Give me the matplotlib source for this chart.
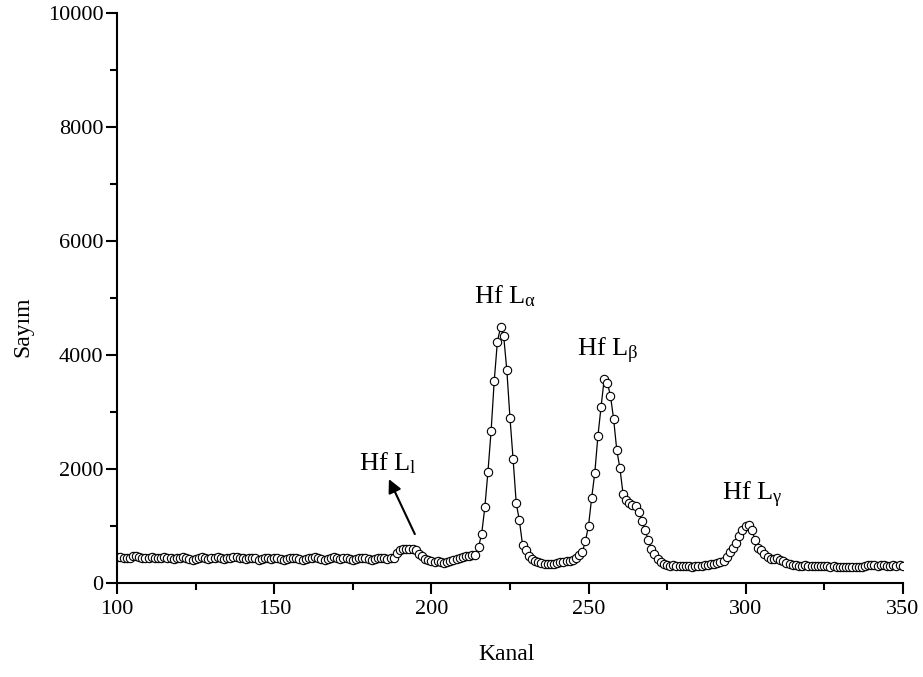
import matplotlib.pyplot as plt
import numpy as np
from matplotlib.ticker import MultipleLocator

plt.rcParams['font.family'] = ['Liberation Serif', 'DejaVu Serif']
plt.rcParams['mathtext.fontset'] = 'custom'
plt.rcParams['mathtext.rm'] = 'Liberation Serif'
plt.rcParams['mathtext.it'] = 'Liberation Serif'

# kanal 100..350, bir nokta her kanal
kanal = np.arange(100, 351)

taban_1 = [460, 450, 440, 430, 440, 470, 480, 450, 440, 430, 440, 450, 440, 430, 440, 450, 440, 430, 420, 430,
           440, 450, 440, 420, 410, 420, 440, 450, 430, 420, 430, 440, 450, 440, 420, 430, 440, 450, 460, 440,
           430, 420, 430, 440, 430, 410, 420, 440, 430, 420, 430, 440, 420, 410, 420, 430, 440, 430, 420, 410,
           420, 430, 440, 450, 430, 420, 410, 420, 440, 450, 430, 420, 430, 440, 420, 410, 420, 430, 440, 430,
           420, 410, 420, 430, 440, 430, 420, 430]
tepe_l = [430, 520, 580, 595, 590, 595, 590, 570, 515, 465, 425, 400, 380, 375, 385, 360, 350, 365, 385, 400,
          420, 440, 455, 465, 480, 490]
tepe_alfa = [483, 630, 863, 1324, 1954, 2667, 3548, 4232, 4483, 4331, 3735, 2900, 2170, 1398, 1095, 669,
             580, 480, 420, 385, 360, 345, 335, 340, 330, 340, 350]
tepe_beta = [360, 370, 380, 390, 410, 438, 496, 536, 730, 1000, 1490, 1930, 2580, 3090, 3580, 3510, 3280, 2870,
             2330, 2010, 1560, 1460, 1400, 1370, 1350, 1250, 1080, 920, 760, 600, 500, 420, 360, 340, 320, 305]
taban_2 = [310, 300, 295, 290, 295, 290, 285, 290, 300, 305, 310, 320, 330, 335, 345, 360, 380]
tepe_gama = [455, 540, 610, 700, 820, 930, 990, 1020, 920, 760, 610, 570, 510, 455, 420, 420, 435, 410, 380, 350]
taban_3 = [330, 320, 310, 305, 300, 310, 305, 300, 295, 300, 290, 295, 290, 285, 290, 285, 280, 285, 280, 275,
           280, 275, 280, 285, 300, 310, 320, 310, 300, 320, 310, 300, 305, 310, 300, 310, 305]

sayim = taban_1 + tepe_l + tepe_alfa + tepe_beta + taban_2 + tepe_gama + taban_3

fig = plt.figure(figsize=(9.23, 6.77), dpi=100)
ax = fig.add_axes([0.127, 0.139, 0.851, 0.842])

ax.plot(kanal, sayim, '-o', color='black', linewidth=0.9, markersize=6,
        markerfacecolor='white', markeredgecolor='black', markeredgewidth=0.8)

ax.set_xlim(100, 350)
ax.set_ylim(0, 10000)
ax.xaxis.set_major_locator(MultipleLocator(50))
ax.xaxis.set_minor_locator(MultipleLocator(25))
ax.yaxis.set_major_locator(MultipleLocator(2000))
ax.yaxis.set_minor_locator(MultipleLocator(1000))

ax.spines['top'].set_visible(False)
ax.spines['right'].set_visible(False)
ax.spines['left'].set_linewidth(1.5)
ax.spines['bottom'].set_linewidth(1.5)
ax.tick_params(which='major', direction='out', length=8, width=1.5, labelsize=16)
ax.tick_params(axis='y', which='major', pad=2)
ax.tick_params(axis='x', which='major', pad=4)
ax.tick_params(which='minor', direction='out', length=5, width=1.5)

ax.set_xlabel('Kanal', fontsize=17)
ax.set_ylabel('Sayım', fontsize=17)
ax.xaxis.set_label_coords(0.4955, -0.108)
ax.yaxis.set_label_coords(-0.107, 0.45)

ax.text(213.5, 4900, r'Hf L$_{\alpha}$', fontsize=19)
ax.text(246.2, 3965, r'Hf L$_{\beta}$', fontsize=19)
ax.text(292.4, 1456, r'Hf L$_{\gamma}$', fontsize=19)
ax.text(176.8, 1982, r'Hf L$_{\mathrm{l}}$', fontsize=19)
ax.annotate('', xy=(186.1, 1865), xytext=(195.1, 812),
            arrowprops=dict(arrowstyle='-|>', color='black', linewidth=1.5, mutation_scale=20))

fig.savefig('out.png', dpi=100)
